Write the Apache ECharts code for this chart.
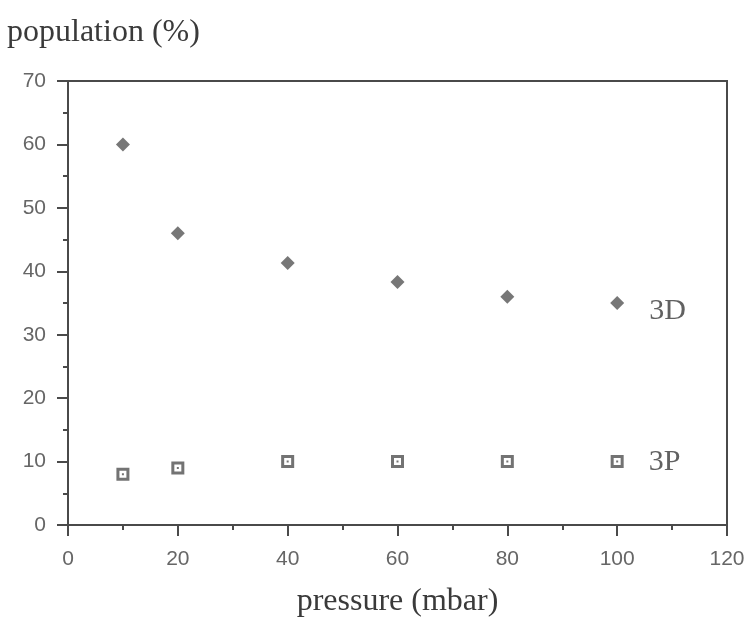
<!DOCTYPE html>
<html>
<head>
<meta charset="utf-8">
<script src="https://cdn.jsdelivr.net/npm/echarts@6/dist/echarts.min.js"></script>
<style>
html,body{margin:0;padding:0;background:#fff;}
#chart{width:751px;height:618px;}
</style>
</head>
<body>
<div id="chart"></div>
<script>
var pressure = [10, 20, 40, 60, 80, 100];
var pop3D = [60, 46, 41.3, 38.3, 36, 35];
var pop3P = [8, 9, 10, 10, 10, 10];
var seriesNames = ['3D', '3P'];
var xTicks = [0, 20, 40, 60, 80, 100, 120];
var yTicks = [0, 10, 20, 30, 40, 50, 60, 70];

function buildData(vals, labelOffset) {
  return pressure.map(function (p, i) {
    var item = { value: [p, vals[i]] };
    if (i === pressure.length - 1) {
      item.label = {
        show: true,
        position: 'right',
        distance: 25,
        offset: labelOffset,
        formatter: '{a}',
        fontFamily: 'Liberation Serif',
        fontSize: 30,
        color: '#3a3a3a'
      };
    }
    return item;
  });
}

var axisColor = '#4a4a4a';
var labelColor = '#666666';

var chart = echarts.init(document.getElementById('chart'), null, { renderer: 'canvas' });
chart.setOption({
  backgroundColor: '#ffffff',
  animation: false,
  title: {
    text: 'population (%)',
    left: 7,
    top: 17,
    padding: 0,
    textStyle: {
      fontFamily: 'Liberation Serif',
      fontWeight: 'normal',
      fontSize: 32,
      color: '#3a3a3a'
    }
  },
  grid: {
    left: 68, right: 24, top: 81, bottom: 93,
    containLabel: false,
    outerBoundsMode: 'none',
    show: true,
    borderColor: axisColor,
    borderWidth: 2,
    backgroundColor: 'transparent'
  },
  xAxis: {
    type: 'value',
    min: xTicks[0],
    max: xTicks[xTicks.length - 1],
    interval: 20,
    name: 'pressure (mbar)',
    nameLocation: 'middle',
    nameGap: 61,
    nameTextStyle: {
      fontFamily: 'Liberation Serif',
      fontSize: 32,
      color: '#3a3a3a'
    },
    axisLine: { show: true, lineStyle: { color: axisColor, width: 2 } },
    axisTick: { show: true, inside: false, length: 11, lineStyle: { color: axisColor, width: 2 } },
    minorTick: { show: true, splitNumber: 2, length: 5, lineStyle: { color: axisColor, width: 2 } },
    splitLine: { show: false },
    axisLabel: {
      margin: 24,
      fontFamily: 'Liberation Sans',
      fontSize: 21,
      color: labelColor,
      formatter: function (v) { return String(v); }
    }
  },
  yAxis: {
    type: 'value',
    min: yTicks[0],
    max: yTicks[yTicks.length - 1],
    interval: 10,
    axisLine: { show: true, lineStyle: { color: axisColor, width: 2 } },
    axisTick: { show: true, inside: false, length: 11, lineStyle: { color: axisColor, width: 2 } },
    minorTick: { show: true, splitNumber: 2, length: 5, lineStyle: { color: axisColor, width: 2 } },
    splitLine: { show: false },
    axisLabel: {
      margin: 22,
      fontFamily: 'Liberation Sans',
      fontSize: 21,
      color: labelColor
    }
  },
  series: [
    {
      name: seriesNames[0],
      type: 'scatter',
      symbol: 'diamond',
      symbolSize: 14,
      itemStyle: { color: '#555555' },
      data: buildData(pop3D, [0, 8])
    },
    {
      name: seriesNames[1],
      type: 'scatter',
      symbol: 'path://M0,0H13V13H0Z M3,3V10H10V3Z M5.5,5.5H7.5V7.5H5.5Z',
      symbolSize: 13,
      itemStyle: { color: '#505050' },
      data: buildData(pop3P, [0, 1])
    }
  ]
});
</script>
</body>
</html>
